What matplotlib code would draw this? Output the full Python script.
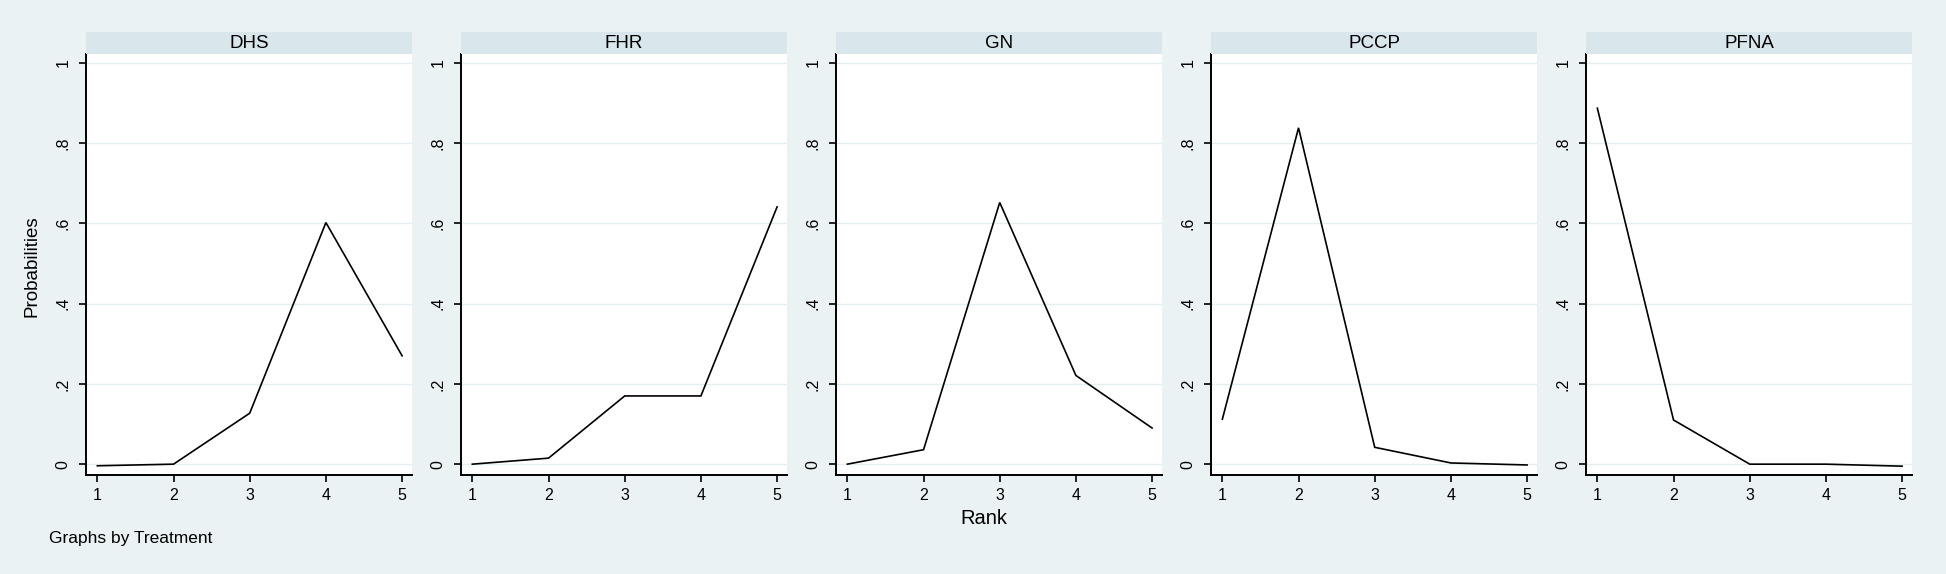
import matplotlib
matplotlib.use("Agg")
import matplotlib.pyplot as plt

plt.rcParams['font.family'] = ['Liberation Sans', 'DejaVu Sans']

treatments = ["DHS", "FHR", "GN", "PCCP", "PFNA"]
ranks = [1, 2, 3, 4, 5]
prob_dhs = [-0.004, 0.0, 0.127, 0.602, 0.270]
prob_fhr = [0.0, 0.015, 0.170, 0.170, 0.641]
prob_gn = [0.0, 0.036, 0.652, 0.221, 0.090]
prob_pccp = [0.112, 0.838, 0.042, 0.003, -0.002]
prob_pfna = [0.887, 0.110, 0.0, 0.0, -0.005]
series = [prob_dhs, prob_fhr, prob_gn, prob_pccp, prob_pfna]
yticks = [0, 0.2, 0.4, 0.6, 0.8, 1.0]
ytick_labels = ["0", ".2", ".4", ".6", ".8", "1"]

W, H = 1946, 574
bg = "#EAF2F3"
strip = "#D9E6EB"
gridc = "#E4EEF0"

fig = plt.figure(figsize=(W / 100, H / 100), dpi=100, facecolor=bg)

lefts = [86, 461, 836, 1211, 1586]
pw = 326
top_px, bot_px = 54, 475
strip_top = 32

for i, (name, vals) in enumerate(zip(treatments, series)):
    l = lefts[i]
    ax = fig.add_axes([l / W, 1 - bot_px / H, pw / W, (bot_px - top_px) / H])
    ax.set_facecolor("white")
    ax.plot(ranks, vals, color="black", lw=1.2, solid_joinstyle="miter")
    ax.set_xlim(0.851, 5.13)
    ax.set_ylim(-0.027, 1.022)
    for yv in yticks:
        ax.axhline(yv, color=gridc, lw=1.0, zorder=0)
    ax.set_yticks(yticks)
    ax.set_yticklabels(ytick_labels, rotation=90, va="center", fontsize=11.5)
    ax.set_xticks(ranks)
    ax.set_xticklabels([str(r) for r in ranks], fontsize=11.5)
    ax.tick_params(axis="y", length=5, width=1.2, pad=6, color="black")
    ax.tick_params(axis="x", length=5, width=1.2, pad=4, color="black")
    for s in ["top", "right"]:
        ax.spines[s].set_visible(False)
    for s in ["left", "bottom"]:
        ax.spines[s].set_linewidth(1.4)
        ax.spines[s].set_color("black")
    # header strip
    sax = fig.add_axes([l / W, 1 - top_px / H, pw / W, (top_px - strip_top) / H])
    sax.set_facecolor(strip)
    sax.set_xticks([])
    sax.set_yticks([])
    for s in sax.spines.values():
        s.set_visible(False)
    sax.text(0.5, 0.5, name, ha="center", va="center", fontsize=13.5,
             transform=sax.transAxes)

fig.text(32 / W, 1 - 266 / H, "Probabilities", rotation=90, ha="center",
         va="center", fontsize=13.5)
fig.text(984 / W, 1 - 519 / H, "Rank", ha="center", va="center", fontsize=14.5)
fig.text(49 / W, 1 - 539 / H, "Graphs by Treatment", ha="left", va="center",
         fontsize=12.5)

fig.savefig("out.png", dpi=100, facecolor=bg)
